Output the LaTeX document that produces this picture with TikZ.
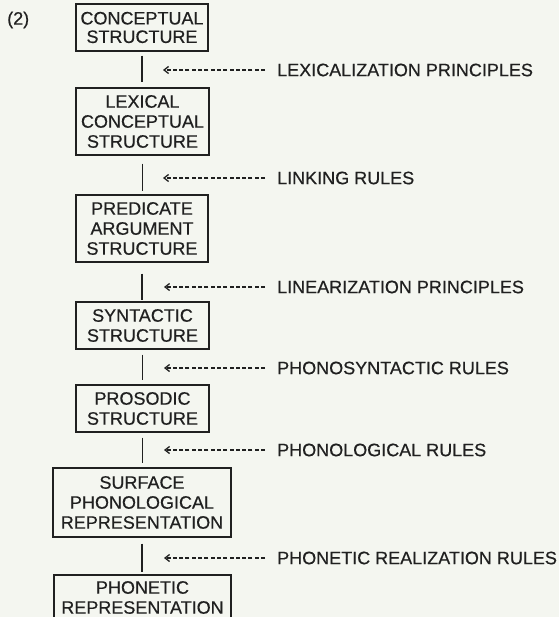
\documentclass[tikz,border=0pt]{standalone}
\usepackage{fontspec}
\setmainfont[FakeBold=0.5]{Liberation Sans}
\usetikzlibrary{arrows.meta}
\definecolor{ink}{HTML}{202020}
\definecolor{paper}{HTML}{F4F6F0}
\tikzset{
  box/.style={draw=ink, line width=1.3pt, text=ink, inner sep=0pt, align=center,
    font=\fontsize{18}{20}\selectfont},
  conn/.style={draw=ink, line width=1.5pt},
  rule/.style={text=ink, inner sep=0pt, anchor=west, font=\fontsize{18}{20}\selectfont},
  dasharrow/.style={draw=ink, line width=1.1pt, dash pattern=on 4pt off 2.3pt,
    -{Straight Barb[length=4.5pt,width=7pt,line width=1.3pt]}, shorten <=12pt},
}
\begin{document}
\begin{tikzpicture}[x=1pt,y=-1pt]
\fill[paper] (0,0) rectangle (559,617);
\useasboundingbox (0,0) rectangle (559,617);
\clip (0,0) rectangle (559,617);

\node[rule] (num) at (7,20) {(2)};

\node[box, minimum width=132pt, minimum height=47pt, font=\fontsize{18}{18.5}\selectfont] (b1) at (142,27.5) {CONCEPTUAL\\STRUCTURE};
\node[box, minimum width=133pt, minimum height=67pt] (b2) at (142.5,121.5) {LEXICAL\\CONCEPTUAL\\STRUCTURE};
\node[box, minimum width=132pt, minimum height=67pt] (b3) at (142,228.5) {PREDICATE\\ARGUMENT\\STRUCTURE};
\node[box, minimum width=133pt, minimum height=47pt] (b4) at (142.5,325.5) {SYNTACTIC\\STRUCTURE};
\node[box, minimum width=133pt, minimum height=47pt] (b5) at (142.5,408.5) {PROSODIC\\STRUCTURE};
\node[box, minimum width=178pt, minimum height=69pt] (b6) at (142,502.5) {SURFACE\\PHONOLOGICAL\\REPRESENTATION};
\node[box, minimum width=177pt, minimum height=45pt] (b7) at (142.5,597.5) {PHONETIC\\REPRESENTATION};

\draw[conn, shorten <=4pt, shorten >=5pt] (b1.south) -- (b1.south |- b2.north);
\draw[conn, shorten <=8pt, shorten >=3pt] (b2.south) -- (b2.south |- b3.north);
\draw[conn, shorten <=11pt, shorten >=1pt] (b3.south) -- (b3.south |- b4.north);
\draw[conn, shorten <=5pt, shorten >=4pt] (b4.south) -- (b4.south |- b5.north);
\draw[conn, shorten <=5pt, shorten >=4pt] (b5.south) -- (b5.south |- b6.north);
\draw[conn, shorten <=6pt, shorten >=2pt] (b6.south) -- (b6.south |- b7.north);

\node[rule] (r1) at (277,70) {LEXICALIZATION PRINCIPLES};
\node[rule] (r2) at (277,178) {LINKING RULES};
\node[rule] (r3) at (277,287) {LINEARIZATION PRINCIPLES};
\node[rule] (r4) at (277,368) {PHONOSYNTACTIC RULES};
\node[rule] (r5) at (277,450) {PHONOLOGICAL RULES};
\node[rule] (r6) at (277,558) {PHONETIC REALIZATION RULES};

\coordinate (t1) at (163,70);
\coordinate (t2) at (163,178);
\coordinate (t3) at (164,287);
\coordinate (t4) at (164,368);
\coordinate (t5) at (164,450);
\coordinate (t6) at (164,558);

\draw[dasharrow] (r1.west) -- (t1);
\draw[dasharrow] (r2.west) -- (t2);
\draw[dasharrow] (r3.west) -- (t3);
\draw[dasharrow] (r4.west) -- (t4);
\draw[dasharrow] (r5.west) -- (t5);
\draw[dasharrow] (r6.west) -- (t6);
\end{tikzpicture}
\end{document}
